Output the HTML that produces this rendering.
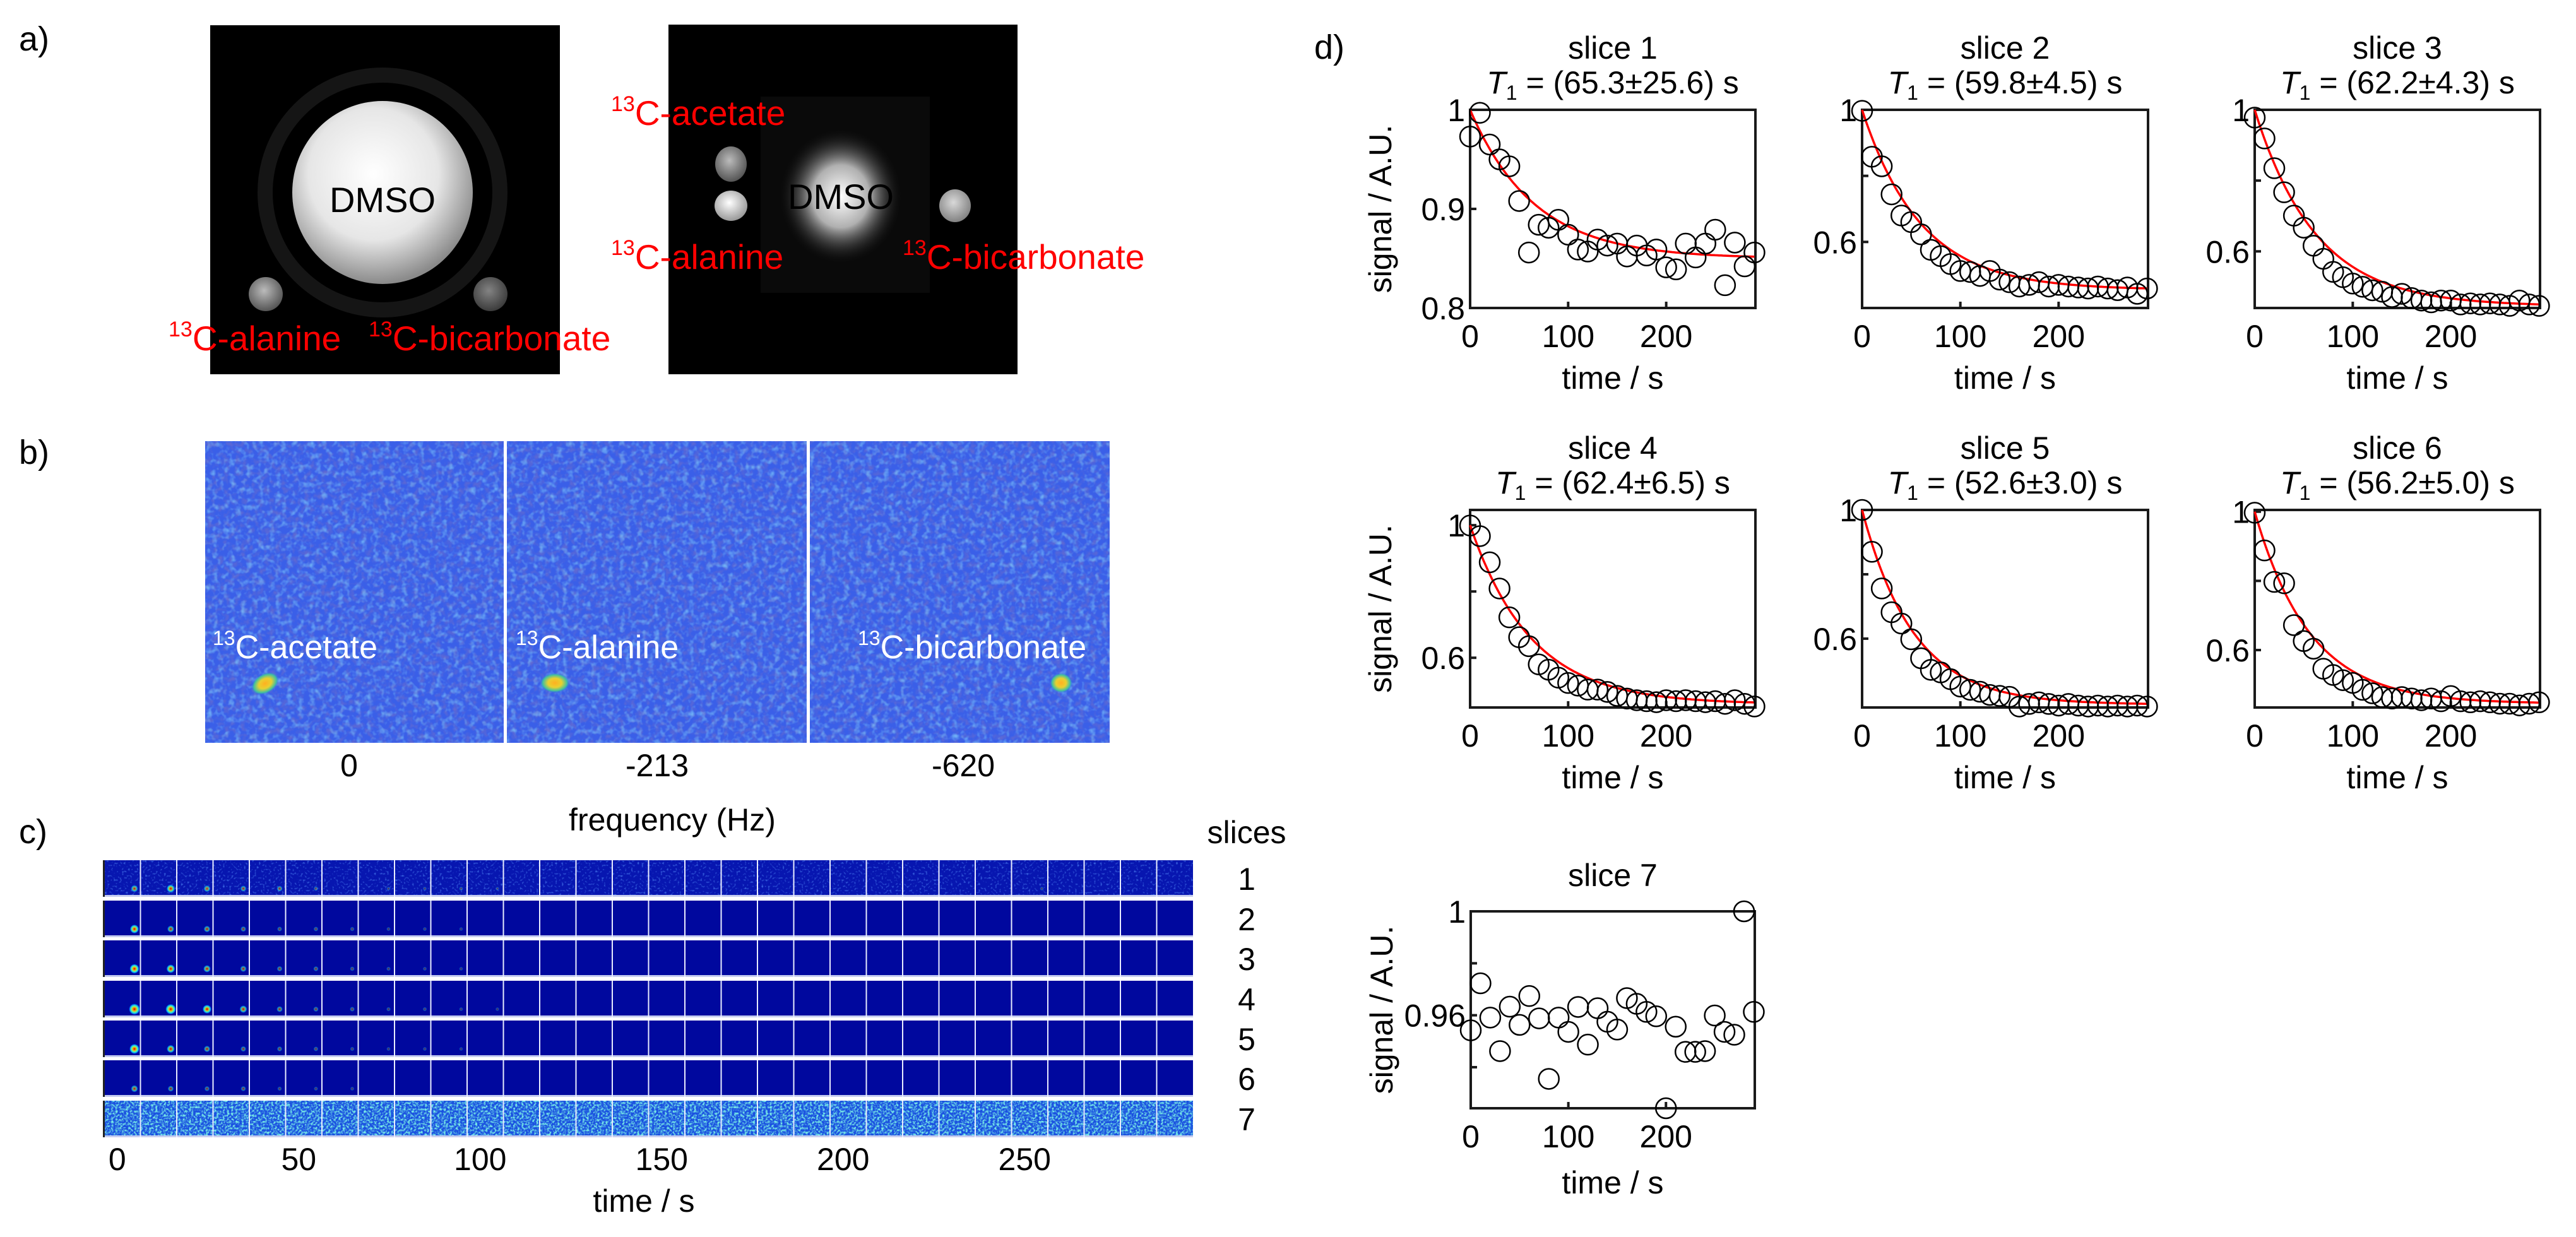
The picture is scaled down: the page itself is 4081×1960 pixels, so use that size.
<!DOCTYPE html>
<html><head><meta charset="utf-8"><style>
html,body{margin:0;padding:0;background:#fff;}
svg{display:block;font-family:"Liberation Sans",Arial,sans-serif;}
</style></head><body>
<svg id="fig" xmlns="http://www.w3.org/2000/svg" width="4081" height="1960" viewBox="0 0 4081 1960">
<defs>
<radialGradient id="sphere" cx="0.45" cy="0.4" r="0.6"><stop offset="0" stop-color="#ffffff"/><stop offset="0.6" stop-color="#e6e6e6"/><stop offset="1" stop-color="#8a8a8a"/></radialGradient>
<radialGradient id="glow" cx="0.5" cy="0.5" r="0.5"><stop offset="0" stop-color="#ffffff"/><stop offset="0.45" stop-color="#b0b0b0"/><stop offset="1" stop-color="#000" stop-opacity="0"/></radialGradient>
<radialGradient id="blobG" cx="0.45" cy="0.4" r="0.6"><stop offset="0" stop-color="#bbb"/><stop offset="1" stop-color="#555"/></radialGradient>
<radialGradient id="blobW" cx="0.45" cy="0.4" r="0.6"><stop offset="0" stop-color="#fff"/><stop offset="1" stop-color="#999"/></radialGradient>
<radialGradient id="hot" cx="0.5" cy="0.5" r="0.5"><stop offset="0" stop-color="#ffb020"/><stop offset="0.45" stop-color="#e8d030"/><stop offset="0.8" stop-color="#40c0a0"/><stop offset="1" stop-color="#3070e0" stop-opacity="0"/></radialGradient>
<radialGradient id="jetSpot" cx="0.5" cy="0.5" r="0.5"><stop offset="0" stop-color="#c00000"/><stop offset="0.3" stop-color="#ffa000"/><stop offset="0.55" stop-color="#60ffa0"/><stop offset="0.8" stop-color="#00a0ff"/><stop offset="1" stop-color="#0030ff" stop-opacity="0"/></radialGradient>
<filter id="nzB" x="0" y="0" width="1" height="1"><feTurbulence type="fractalNoise" baseFrequency="0.11" numOctaves="2" seed="4"/><feColorMatrix values="0 0 0 0 0.2  0 0 0 0 0.55  0 0 0 0 0.95  1.8 0 0 0 -0.85"/></filter>
<filter id="nzD" x="0" y="0" width="1" height="1"><feTurbulence type="fractalNoise" baseFrequency="0.11" numOctaves="2" seed="9"/><feColorMatrix values="0 0 0 0 0.15  0 0 0 0 0.15  0 0 0 0 0.6  0 1.8 0 0 -0.8"/></filter>
<filter id="nz7" x="0" y="0" width="1" height="1"><feTurbulence type="fractalNoise" baseFrequency="0.3" numOctaves="2" seed="2"/><feColorMatrix values="0 0 0 0 0.2  0 0 0 0 0.9  0 0 0 0 0.8  3 0 0 0 -1.25"/></filter>
<filter id="nz1" x="0" y="0" width="1" height="1"><feTurbulence type="fractalNoise" baseFrequency="0.3" numOctaves="1" seed="5"/><feColorMatrix values="0 0 0 0 0.1  0 0 0 0 0.3  0 0 0 0 1  2.5 0 0 0 -1.4"/></filter>
</defs>

<text x="30" y="80" font-size="54">a)</text>
<g>
<rect x="333" y="40" width="554" height="553" fill="#000"/>
<circle cx="606" cy="305" r="186" fill="none" stroke="#151515" stroke-width="24"/>
<ellipse cx="606" cy="305" rx="143" ry="145" fill="url(#sphere)"/>
<circle cx="421" cy="466" r="27" fill="url(#blobG)"/>
<circle cx="777" cy="466" r="27" fill="url(#blobG)" opacity="0.7"/>
<text x="606" y="336" font-size="56" text-anchor="middle">DMSO</text>
</g>
<text x="267" y="555" font-size="55" fill="#ff0000"><tspan font-size="34" dy="-22">13</tspan><tspan dy="22">C-alanine</tspan></text>
<text x="584" y="555" font-size="55" fill="#ff0000"><tspan font-size="34" dy="-22">13</tspan><tspan dy="22">C-bicarbonate</tspan></text>
<g>
<rect x="1059" y="39" width="553" height="554" fill="#000"/>
<rect x="1205" y="153" width="268" height="311" fill="#0a0a0a"/>
<ellipse cx="1332" cy="311" rx="100" ry="110" fill="url(#glow)"/>
<ellipse cx="1158" cy="260" rx="25" ry="28" fill="url(#blobG)"/>
<ellipse cx="1158" cy="326" rx="26" ry="24" fill="url(#blobW)"/>
<ellipse cx="1513" cy="326" rx="25" ry="26" fill="url(#blobW)" opacity="0.85"/>
<text x="1332" y="331" font-size="56" text-anchor="middle">DMSO</text>
</g>
<text x="968" y="198" font-size="55" fill="#ff0000"><tspan font-size="34" dy="-22">13</tspan><tspan dy="22">C-acetate</tspan></text>
<text x="968" y="426" font-size="55" fill="#ff0000"><tspan font-size="34" dy="-22">13</tspan><tspan dy="22">C-alanine</tspan></text>
<text x="1430" y="426" font-size="55" fill="#ff0000"><tspan font-size="34" dy="-22">13</tspan><tspan dy="22">C-bicarbonate</tspan></text>

<text x="30" y="735" font-size="54">b)</text>
<g>
<rect x="325" y="699" width="1433" height="478" fill="#3a5fe8"/>
<rect x="325" y="699" width="1433" height="478" filter="url(#nzD)"/>
<rect x="325" y="699" width="1433" height="478" filter="url(#nzB)"/>
<ellipse cx="420" cy="1083" rx="24" ry="16" fill="url(#hot)" transform="rotate(-30 420 1083)"/>
<ellipse cx="879" cy="1082" rx="24" ry="16" fill="url(#hot)"/>
<ellipse cx="1681" cy="1082" rx="18" ry="16" fill="url(#hot)"/>
<rect x="798" y="699" width="5" height="478" fill="#fff"/>
<rect x="1278" y="699" width="5" height="478" fill="#fff"/>
</g>
<text x="337" y="1043" font-size="52" fill="#fff"><tspan font-size="32" dy="-21">13</tspan><tspan dy="21">C-acetate</tspan></text>
<text x="817" y="1043" font-size="52" fill="#fff"><tspan font-size="32" dy="-21">13</tspan><tspan dy="21">C-alanine</tspan></text>
<text x="1359" y="1043" font-size="52" fill="#fff"><tspan font-size="32" dy="-21">13</tspan><tspan dy="21">C-bicarbonate</tspan></text>
<text x="553" y="1230" font-size="50" text-anchor="middle">0</text>
<text x="1041" y="1230" font-size="50" text-anchor="middle">-213</text>
<text x="1526" y="1230" font-size="50" text-anchor="middle">-620</text>
<text x="1065" y="1316" font-size="50" text-anchor="middle">frequency (Hz)</text>

<text x="30" y="1336" font-size="54">c)</text>
<text x="1975" y="1336" font-size="50" text-anchor="middle">slices</text>
<g id="panelC"></g>
<text x="1020" y="1920" font-size="50" text-anchor="middle">time / s</text>

<text x="2082" y="93" font-size="54">d)</text>
<g id="panelD"></g>
</svg>
<script>
const NS = "http://www.w3.org/2000/svg";
const timeSec = [0,10,20,30,40,50,60,70,80,90,100,110,120,130,140,150,160,170,180,190,200,210,220,230,240,250,260,270,280,290];
const slice1 = [0.973,0.997,0.965,0.950,0.943,0.908,0.856,0.884,0.881,0.889,0.874,0.859,0.857,0.869,0.863,0.865,0.852,0.863,0.853,0.859,0.841,0.839,0.865,0.851,0.865,0.879,0.823,0.866,0.842,0.856];
const slice2 = [0.997,0.858,0.829,0.744,0.680,0.660,0.623,0.576,0.557,0.533,0.512,0.509,0.497,0.512,0.486,0.478,0.465,0.470,0.478,0.465,0.470,0.465,0.462,0.459,0.465,0.459,0.454,0.462,0.443,0.459];
const slice3 = [0.978,0.919,0.835,0.767,0.701,0.667,0.616,0.579,0.542,0.527,0.509,0.500,0.490,0.486,0.471,0.480,0.468,0.461,0.456,0.461,0.461,0.450,0.453,0.450,0.453,0.450,0.446,0.461,0.450,0.446];
const slice4 = [0.999,0.967,0.888,0.809,0.722,0.662,0.635,0.580,0.564,0.540,0.524,0.516,0.504,0.504,0.497,0.485,0.477,0.472,0.469,0.466,0.472,0.469,0.472,0.469,0.466,0.469,0.461,0.472,0.461,0.453];
const slice5 = [1.000,0.870,0.756,0.682,0.647,0.598,0.539,0.503,0.495,0.474,0.451,0.441,0.435,0.425,0.422,0.419,0.389,0.397,0.402,0.397,0.392,0.397,0.392,0.389,0.392,0.389,0.392,0.389,0.392,0.389];
const slice6 = [0.997,0.888,0.797,0.793,0.672,0.626,0.604,0.546,0.528,0.513,0.505,0.485,0.475,0.464,0.460,0.464,0.460,0.455,0.460,0.452,0.467,0.452,0.449,0.452,0.449,0.445,0.445,0.440,0.445,0.449];
const slice7 = [0.9542,0.9723,0.9591,0.9462,0.9633,0.9563,0.9674,0.9588,0.9355,0.9591,0.9536,0.9632,0.9487,0.9627,0.9575,0.9545,0.9666,0.9644,0.9613,0.9596,0.9242,0.9556,0.9459,0.9459,0.9462,0.9599,0.9536,0.9525,1.0,0.9613];
const t1Values = [65.3,59.8,62.2,62.4,52.6,56.2];
const t1Errors = [25.6,4.5,4.3,6.5,3.0,5.0];
const fitPlateau = [0.85,0.455,0.445,0.46,0.395,0.445];
const fitAmplitude = [0.15,0.545,0.555,0.54,0.605,0.555];
const xTickValues = [0,100,200];
const panelCTickLabels = ["0","50","100","150","200","250"];
const panelCRowBrightness = [0.75,0.8,0.9,1.0,0.9,0.6];
const allSlices = [slice1,slice2,slice3,slice4,slice5,slice6,slice7];

const plotBoxes = [
 {x0:2329,x1:2781,y0:174,y1:488,ymin:0.8,ymax:1.0,labeled:[1,0.9,0.8],minor:[]},
 {x0:2950,x1:3403,y0:174,y1:488,ymin:0.4,ymax:1.0,labeled:[1,0.6],minor:[0.8]},
 {x0:3572,x1:4024,y0:174,y1:488,ymin:0.44,ymax:1.0,labeled:[1,0.6],minor:[0.8]},
 {x0:2329,x1:2781,y0:808,y1:1121,ymin:0.45,ymax:1.046,labeled:[1,0.6],minor:[0.8]},
 {x0:2950,x1:3403,y0:808,y1:1121,ymin:0.386,ymax:1.0,labeled:[1,0.6],minor:[0.8]},
 {x0:3572,x1:4024,y0:808,y1:1121,ymin:0.434,ymax:1.005,labeled:[1,0.6],minor:[0.8]},
 {x0:2330,x1:2780,y0:1444,y1:1756,ymin:0.9242,ymax:1.0,labeled:[1,0.96],minor:[0.98,0.94]}
];
const XMAX = 291;

function mk(tag, attrs, parent){
  const e = document.createElementNS(NS, tag);
  for (const k in attrs) e.setAttribute(k, attrs[k]);
  parent.appendChild(e);
  return e;
}
function fmtTick(v){ return v===1 ? "1" : String(v); }

const pd = document.getElementById("panelD");
plotBoxes.forEach((b, i) => {
  const g = mk("g", {}, pd);
  
  
  const sx = v => b.x0 + (v / XMAX) * (b.x1 - b.x0);
  const sy = v => b.y1 - (v - b.ymin) / (b.ymax - b.ymin) * (b.y1 - b.y0);
  const cx = (b.x0 + b.x1) / 2;
  const tt = mk("text", {x:cx, y:b.y0 - (i < 6 ? 81 : 40), "font-size":50, "text-anchor":"middle"}, g);
  
  
  tt.textContent = "slice " + (i+1);
  if (i < 6) {
    const t1 = mk("text", {x:cx, y:b.y0 - 26, "font-size":50, "text-anchor":"middle"}, g);
    
    
    const a = mk("tspan", {"font-style":"italic"}, t1); a.textContent = "T";
    const s = mk("tspan", {"font-size":32, dy:10}, t1); s.textContent = "1";
    const r = mk("tspan", {dy:-10}, t1);
    r.textContent = " = (" + t1Values[i].toFixed(1) + "\u00b1" + t1Errors[i].toFixed(1) + ") s";
  }
  const box = mk("rect", {x:b.x0, y:b.y0, width:b.x1-b.x0, height:b.y1-b.y0, fill:"none", stroke:"#1a1a1a", "stroke-width":4}, g);
  
  
  xTickValues.forEach(v => {
    const tk = mk("line", {x1:sx(v), x2:sx(v), y1:b.y1, y2:b.y1-10, stroke:"#1a1a1a", "stroke-width":4}, g);
    
    
    const tl = mk("text", {x:sx(v), y:b.y1 + 62, "font-size":50, "text-anchor":"middle"}, g);
    
    
    tl.textContent = String(v);
  });
  const xt = mk("text", {x:cx, y:b.y1 + (i===6 ? 135 : 128), "font-size":50, "text-anchor":"middle"}, g);
  
  
  xt.textContent = "time / s";
  b.labeled.concat(b.minor).forEach(v => {
    const tk = mk("line", {x1:b.x0, x2:b.x0+10, y1:sy(v), y2:sy(v), stroke:"#1a1a1a", "stroke-width":4}, g);
    
    
  });
  b.labeled.forEach(v => {
    const tl = mk("text", {x:b.x0 - 8, y:sy(v) + 18, "font-size":50, "text-anchor":"end"}, g);
    
    
    tl.textContent = fmtTick(v);
  });
  if (i === 0 || i === 3 || i === 6) {
    const yl = mk("text", {x:0, y:0, "font-size":50, "text-anchor":"middle", transform:"translate(" + (i===6?2206:2204) + "," + ((b.y0+b.y1)/2) + ") rotate(-90)"}, g);
    
    
    yl.textContent = "signal / A.U.";
  }
  if (i < 6) {
    let d = "";
    for (let t = 0; t <= 290; t += 2) {
      const v = fitPlateau[i] + fitAmplitude[i] * Math.exp(-t / t1Values[i]);
      d += (t === 0 ? "M" : "L") + sx(t).toFixed(1) + "," + sy(v).toFixed(1);
    }
    const p = mk("path", {d:d, fill:"none", stroke:"#ff0000", "stroke-width":3.5}, g);
    
    
  }
  const data = allSlices[i];
  data.forEach((v, k) => {
    const c = mk("circle", {cx:sx(timeSec[k]), cy:sy(v), r:16, fill:"none", stroke:"#000", "stroke-width":2.5}, g);
    
    
  });
});

const pc = document.getElementById("panelC");
const cLeft = 165, cRight = 1890, rowH = 58;
const rowTops = [1363,1427,1490,1554,1617,1680,1744];
const frameW = (cRight - cLeft) / timeSec.length;
rowTops.forEach((top, r) => {
  const g = mk("g", {}, pc);
  
  
  const bg = mk("rect", {x:cLeft, y:top, width:cRight-cLeft, height:rowH, fill: r===6 ? "#1a50e0" : (r===0 ? "#0716b0" : "#00089e")}, g);
  
  
  if (r === 6 || r === 0) {
    const nz = mk("rect", {x:cLeft, y:top, width:cRight-cLeft, height:rowH, filter: r===6 ? "url(#nz7)" : "url(#nz1)"}, g);
    
    
  }
  const strip = mk("rect", {x:cLeft, y:top+rowH-3, width:cRight-cLeft, height:3, fill:"#c6cdf0"}, g);
  
  
  const le = mk("rect", {x:cLeft-2, y:top, width:3, height:rowH, fill:"#222"}, g);
  
  
  if (r < 6) {
    allSlices[r].forEach((v, k) => {
      const I0 = Math.max(0, (v - fitPlateau[r]) / fitAmplitude[r]) * panelCRowBrightness[r];
      const I = Math.pow(I0, 1.6);
      if (I < 0.03) return;
      const sp = mk("circle", {cx: cLeft + k*frameW + 48, cy: top + 45, r: 3 + 6*Math.min(I,1.1), fill:"url(#jetSpot)", opacity: Math.min(1, 0.25 + I)}, g);
      
      
    });
  }
  for (let k = 1; k < timeSec.length; k++) {
    const ln = mk("rect", {x: cLeft + k*frameW - 1, y: top, width: 2, height: rowH, fill:"#e8ecff"}, g);
    
    
  }
  const lab = mk("text", {x:1975, y: top + rowH/2 + 18, "font-size":50, "text-anchor":"middle"}, g);
  
  
  lab.textContent = String(r+1);
});
panelCTickLabels.forEach((s, k) => {
  const t = Number(s);
  const x = cLeft + frameW/2 + (t/10) * frameW - 8;
  const tl = mk("text", {x:x, y:1854, "font-size":50, "text-anchor":"middle"}, pc);
  
  
  tl.textContent = s;
});
</script>
</body></html>
